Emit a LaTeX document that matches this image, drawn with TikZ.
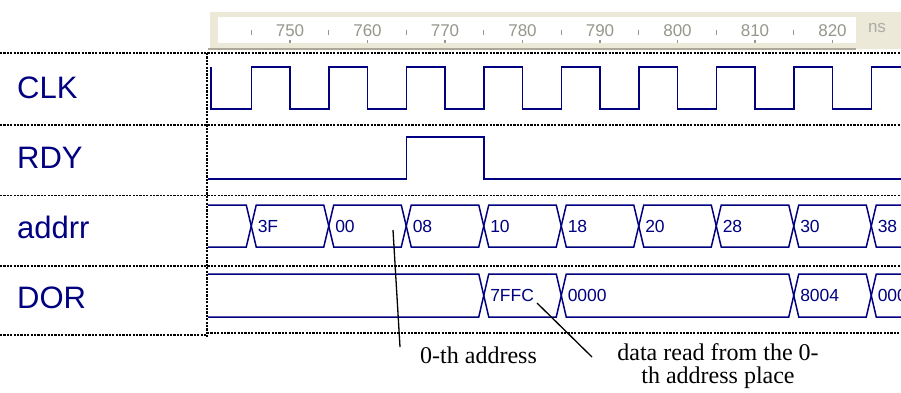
\documentclass[tikz,border=0pt]{standalone}
\usepackage{fontspec}
\setmainfont{Liberation Serif}
\newfontfamily\arialfont{Liberation Sans}
\definecolor{navy}{RGB}{0,0,128}
\definecolor{rulerbg}{RGB}{236,233,216}
\definecolor{rulerln}{RGB}{172,168,153}
\definecolor{rulertx}{RGB}{150,150,140}
\definecolor{unittx}{RGB}{172,172,168}
\tikzset{
	wave/.style={draw=navy, line width=1.5pt},
	gridline/.style={line width=1.5pt, dash pattern={on 2.2pt off 1.2pt}},
	signame/.style={anchor=base west, inner sep=0pt, text=navy, font=\arialfont\fontsize{31}{31}\selectfont},
	busval/.style={anchor=base west, inner sep=0pt, text=navy, font=\arialfont\fontsize{17.5}{17.5}\selectfont},
	tickval/.style={anchor=base, inner sep=0pt, text=rulertx, font=\arialfont\fontsize{17}{17}\selectfont},
	note/.style={inner sep=0pt, align=center, font=\fontsize{24}{23.5}\selectfont},
}
\begin{document}
\begin{tikzpicture}[x=1pt, y=-1pt]
			\useasboundingbox (0,0) rectangle (901,392);
			\fill[rulerbg] (210,12) rectangle (901,49);
			\fill[white] (218,17) rectangle (856,43);
			\draw[rulerln, line width=2pt] (208,49) -- (856,49);
			\foreach \t [count=\i] in {750,760,...,820} {
				\node[tickval] (tick\i) at ({290+7.75*(\t-750)},36) {\t};
				\draw[rulertx, line width=1.2pt] ({290+7.75*(\t-750)},40) -- ++(0,3);
				\draw[rulertx, line width=1.2pt] ({251.25+7.75*(\t-750)},30) -- ++(0,5);
			}
			\node[tickval, text=unittx] (unit) at (877,32) {ns};
			\draw[gridline] (0,53) -- (901,53);
			\draw[gridline] (0,125) -- (901,125);
			\draw[gridline] (0,195.5) -- (901,195.5);
			\draw[gridline] (0,266) -- (901,266);
			\draw[gridline] (0,335) -- (207,335);
			\draw[gridline] (207,333) -- (901,333);
			\draw[gridline] (207,53) -- (207,337);
			\node[signame] (clk) at (17,98) {CLK};
			\node[signame] (rdy) at (17,168) {RDY};
			\node[signame] (addrr) at (17,238) {addrr};
			\node[signame] (dor) at (17,308) {DOR};
			\draw[wave] (211,67) -- (211,109) foreach \k in {0,...,8} {-- ({251.25+77.5*\k},109) -- ++(0,-42) -- ++(38.75,0) -- ++(0,42)};
			\draw[wave] (208,179) -- (406.5,179) -- (406.5,137) -- (484,137) -- (484,179) -- (901,179);
			\draw[wave] (208,205) -- (246.25,205) -- (251.25,226) -- (246.25,247) -- (208,247);
			\foreach \v [count=\i from 0] in {3F,00,08,10,18,20,28,30,38}
				\draw[wave] ({251.25+77.5*\i},226) -- ++(5,-21) -- ++(67.5,0) -- ++(5,21) -- ++(-5,21) -- ++(-67.5,0) -- cycle
					node[busval] (addr\i) at ({257+77.5*\i},232) {\v};
			\draw[wave] (208,274) -- (478.75,274) -- (483.75,295.5) -- (478.75,317) -- (208,317);
			\foreach \a/\b/\v [count=\i] in {3/4/7FFC, 4/7/0000, 7/8/8004, 8/9/0000}
				\draw[wave] ({251.25+77.5*\a},295.5) -- ({256.25+77.5*\a},274) -- ({246.25+77.5*\b},274) -- ({251.25+77.5*\b},295.5) -- ({246.25+77.5*\b},317) -- ({256.25+77.5*\a},317) -- cycle
					node[busval] (dor\i) at ({257+77.5*\a},301.5) {\v};
			\coordinate (addrpt) at (393,230);
			\coordinate (addrend) at (400,347);
			\coordinate (dorpt) at (537,303);
			\coordinate (dorend) at (592,357);
			\node[note, anchor=base west] (addrnote) at (420,363) {0-th address};
			\node[note, anchor=north] (dornote) at (718,343) {data read from the 0-\\th address place};
			\draw[line width=1.3pt] (addrpt) -- (addrend);
			\draw[line width=1.3pt] (dorpt) -- (dorend);
\end{tikzpicture}
\end{document}
